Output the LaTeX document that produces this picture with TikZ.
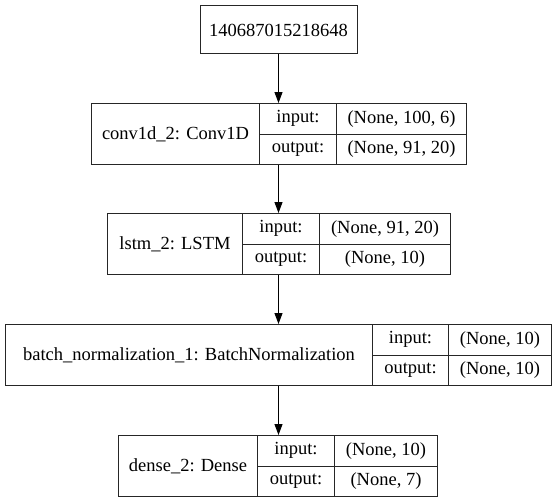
\documentclass[tikz,border=0pt]{standalone}
\usepackage{fontspec}
\setmainfont{Liberation Serif}
\usetikzlibrary{arrows.meta}

\newcommand*{\arrx}{278.5}
\newcommand*{\rowh}{61}

\begin{document}
\begin{tikzpicture}
[
	x=1pt,
	y=-1pt,
	font=\fontsize{18.5}{21}\selectfont,
	cell/.style={draw=black!85,line width=1pt,inner sep=0pt,anchor=north west},
	arr/.style={-{Triangle[length=11pt,width=8pt]},line width=1pt,black}
]

	\useasboundingbox (0,0) rectangle (557,503);

	% input node
	\node[draw=black!85,line width=1pt,inner sep=0pt,minimum width=157pt,minimum height=48pt] (inp) at (\arrx,30) {140687015218648};

	% layer records
	\foreach \id/\ytop/\xa/\xb/\xc/\xd/\lbl/\shin/\shout in {
		conv/103/91/259/336/466/{conv1d\_2: Conv1D}/{(None, 100, 6)}/{(None, 91, 20)},
		lstm/213/107/242/319/450/{lstm\_2: LSTM}/{(None, 91, 20)}/{(None, 10)},
		bn/324/5/372/448/551/{batch\_normalization\_1: BatchNormalization}/{(None, 10)}/{(None, 10)},
		dense/435/118/257/334/437/{dense\_2: Dense}/{(None, 10)}/{(None, 7)}%
	} {
		\node[cell,minimum width={(\xb-\xa)*1pt},minimum height=\rowh pt] (\id) at (\xa,\ytop) {\lbl};
		\node[cell,minimum width={(\xc-\xb)*1pt},minimum height=\rowh/2 pt] (\id-in) at (\xb,\ytop) {input:};
		\node[cell,minimum width={(\xc-\xb)*1pt},minimum height=\rowh/2 pt] (\id-out) at (\xb,\ytop+\rowh/2) {output:};
		\node[cell,minimum width={(\xd-\xc)*1pt},minimum height=\rowh/2 pt] (\id-inval) at (\xc,\ytop) {\shin};
		\node[cell,minimum width={(\xd-\xc)*1pt},minimum height=\rowh/2 pt] (\id-outval) at (\xc,\ytop+\rowh/2) {\shout};
	}

	% arrows
	\draw[arr] (inp) -- (inp |- conv.north);
	\draw[arr] (conv.south -| inp) -- (lstm.north -| inp);
	\draw[arr] (lstm.south -| inp) -- (bn.north -| inp);
	\draw[arr] (bn.south -| inp) -- (dense.north -| inp);

\end{tikzpicture}
\end{document}
